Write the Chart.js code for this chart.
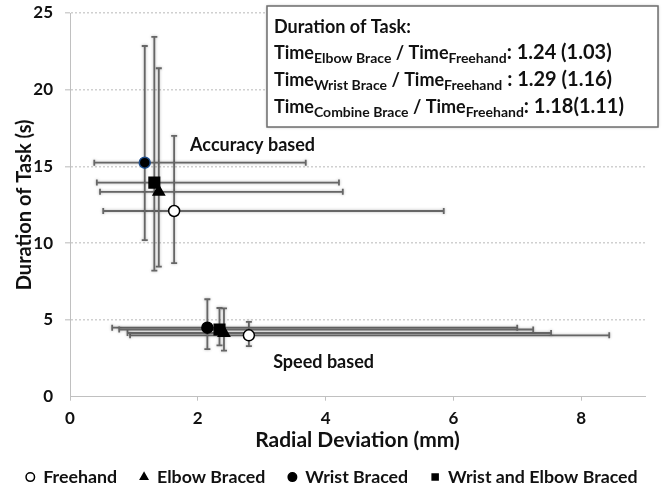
<!DOCTYPE html>
<html>
<head>
<meta charset="utf-8">
<script src="https://cdn.jsdelivr.net/npm/chart.js@4.4.0/dist/chart.umd.min.js"></script>
<style>
  html, body { margin: 0; padding: 0; background: #fff; }
  #wrap { width: 664px; height: 496px; }
</style>
</head>
<body>
<div id="wrap"><canvas id="chart" width="664" height="496"></canvas></div>
<script>
// series order: Freehand, Elbow Braced, Wrist Braced, Wrist and Elbow Braced
const seriesNames = ["Freehand", "Elbow Braced", "Wrist Braced", "Wrist and Elbow Braced"];

// accuracy based task (mean, low / high ends of the bars)
const accDev = [1.63, 1.39, 1.17, 1.32];
const accDevLow = [0.52, 0.47, 0.38, 0.42];
const accDevHigh = [5.85, 4.27, 3.69, 4.21];
const accTime = [12.1, 13.35, 15.25, 13.95];
const accTimeLow = [8.7, 8.47, 10.2, 8.21];
const accTimeHigh = [17.0, 21.4, 22.85, 23.45];

// speed based task
const spdDev = [2.8, 2.41, 2.15, 2.34];
const spdDevLow = [0.94, 0.9, 0.66, 0.77];
const spdDevHigh = [8.44, 7.53, 7.0, 7.25];
const spdTime = [4.0, 4.15, 4.5, 4.38];
const spdTimeLow = [3.3, 3.0, 3.1, 3.35];
const spdTimeHigh = [4.87, 5.75, 6.35, 5.78];

const xTicks = [0, 2, 4, 6, 8];
const ratioNames = ["Elbow Brace", "Wrist Brace", "Combine Brace"];
const ratioValues = [": 1.24 (1.03)", " : 1.29 (1.16)", ": 1.18(1.11)"];

const FONT = "Lato";
const pointStyles = ["circle", "triangle", "circle", "rect"];
const pointFills = ["#ffffff", "#000000", "#000000", "#000000"];
const pointSizes = [5.5, 6.5, 5.5, 7.5];

const datasets = seriesNames.map((name, i) => ({
  label: name,
  data: [
    { x: accDev[i], y: accTime[i], xMin: accDevLow[i], xMax: accDevHigh[i], yMin: accTimeLow[i], yMax: accTimeHigh[i] },
    { x: spdDev[i], y: spdTime[i], xMin: spdDevLow[i], xMax: spdDevHigh[i], yMin: spdTimeLow[i], yMax: spdTimeHigh[i] }
  ],
  pointStyle: pointStyles[i],
  pointRadius: pointSizes[i],
  pointBackgroundColor: pointFills[i],
  pointBorderColor: i === 2 ? ["#1f4e8c", "#000000"] : "#000000",
  pointBorderWidth: 1.5,
  backgroundColor: pointFills[i],
  borderColor: "#000000"
}));

// whiskers, drawn under the markers
const errorBars = {
  id: "errorBars",
  beforeDatasetsDraw(chart) {
    const { ctx, scales: { x, y } } = chart;
    ctx.save();
    ctx.strokeStyle = "#666666";
    ctx.lineWidth = 1.8;
    ctx.shadowColor = "rgba(0,0,0,0.3)";
    ctx.shadowBlur = 3;
    chart.data.datasets.forEach(ds => ds.data.forEach(p => {
      const px = x.getPixelForValue(p.x), py = y.getPixelForValue(p.y);
      const x0 = x.getPixelForValue(p.xMin), x1 = x.getPixelForValue(p.xMax);
      const y0 = y.getPixelForValue(p.yMin), y1 = y.getPixelForValue(p.yMax);
      ctx.beginPath();
      ctx.moveTo(x0, py); ctx.lineTo(x1, py);
      ctx.moveTo(x0, py - 3); ctx.lineTo(x0, py + 3);
      ctx.moveTo(x1, py - 3); ctx.lineTo(x1, py + 3);
      ctx.moveTo(px, y0); ctx.lineTo(px, y1);
      ctx.moveTo(px - 3, y0); ctx.lineTo(px + 3, y0);
      ctx.moveTo(px - 3, y1); ctx.lineTo(px + 3, y1);
      ctx.stroke();
    }));
    ctx.restore();
  }
};

function richLine(ctx, x, y, parts) {
  parts.forEach(([t, size, dy]) => {
    ctx.font = "bold " + size + "px " + FONT;
    ctx.fillText(t, x, y + dy);
    x += ctx.measureText(t).width;
  });
}

const annotations = {
  id: "annotations",
  afterDatasetsDraw(chart) {
    const { ctx, scales: { x, y } } = chart;
    ctx.save();
    ctx.fillStyle = "#111";
    ctx.font = "bold 18px " + FONT;
    ctx.textBaseline = "middle";
    ctx.fillText("Accuracy based", x.getPixelForValue(1.88), y.getPixelForValue(16.4));
    ctx.fillText("Speed based", x.getPixelForValue(3.18), y.getPixelForValue(2.28));
    ctx.restore();
  },
  afterDraw(chart) {
    const ctx = chart.ctx;
    ctx.save();
    ctx.shadowColor = "rgba(0,0,0,0.35)";
    ctx.shadowBlur = 3;
    ctx.fillStyle = "#fff";
    ctx.fillRect(267, 6, 391, 121);
    ctx.shadowBlur = 0;
    ctx.strokeStyle = "#6e6e6e";
    ctx.lineWidth = 1.5;
    ctx.strokeRect(267, 6, 391, 121);
    ctx.fillStyle = "#111";
    ctx.textBaseline = "alphabetic";
    ctx.font = "bold 18px " + FONT;
    ctx.fillText("Duration of Task:", 274, 33);
    const base = [59, 86, 113];
    ratioNames.forEach((n, i) => {
      richLine(ctx, 274, base[i], [["Time", 18, 0], [n, 14, 4], [" / Time", 18, 0], ["Freehand", 14, 4], [ratioValues[i], 20, 0]]);
    });
    ctx.restore();
  }
};

Chart.defaults.font.family = FONT;
Chart.defaults.font.weight = "bold";
Chart.defaults.color = "#111";

new Chart(document.getElementById("chart"), {
  type: "scatter",
  data: { datasets },
  options: {
    responsive: false,
    animation: false,
    layout: { padding: { top: 13, right: 0, left: 0, bottom: 0 } },
    scales: {
      x: {
        type: "linear",
        min: 0,
        max: 9,
        afterBuildTicks(s) { s.ticks = xTicks.map(v => ({ value: v })); },
        ticks: { padding: 8, font: { size: 17, weight: "bold" } },
        grid: { drawOnChartArea: false, tickLength: 4, color: "#c0c0c0" },
        border: { color: "#c0c0c0", dash: [2, 2] },
        title: { display: true, text: "Radial Deviation (mm)", font: { size: 21, weight: "bold" }, padding: { top: 0, bottom: -7.5 } },
        afterFit(s) { s.height = 48.5; s.paddingLeft = 0; s.paddingRight = 0; }
      },
      y: {
        min: 0,
        max: 25,
        ticks: { stepSize: 5, padding: 12, font: { size: 17, weight: "bold" } },
        grid: {
          color: c => (c.tick && c.tick.value === 0 ? "rgba(0,0,0,0)" : "#d0d0d0"),
          lineWidth: 1.5,
          tickLength: 5
        },
        border: { color: "#c0c0c0", dash: [2, 2] },
        title: { display: true, text: "Duration of Task (s)", font: { size: 20, weight: "bold" }, padding: { top: 13, bottom: 0 } },
        afterFit(s) { s.width = 70; s.paddingTop = 0; s.paddingBottom = 0; }
      },
      // empty right margin
      yRight: {
        position: "right",
        grid: { display: false },
        ticks: { display: false },
        border: { display: false },
        afterFit(s) { s.width = 19; s.paddingTop = 0; s.paddingBottom = 0; }
      }
    },
    plugins: {
      legend: {
        position: "bottom",
        labels: {
          usePointStyle: true,
          boxWidth: 8,
          boxHeight: 6,
          padding: 23,
          font: { size: 17.8, weight: "bold" },
          generateLabels(chart) {
            const items = Chart.defaults.plugins.legend.labels.generateLabels(chart);
            items.forEach(it => { it.strokeStyle = "#000"; it.lineWidth = 1.5; });
            return items;
          }
        }
      },
      tooltip: { enabled: false }
    }
  },
  plugins: [errorBars, annotations]
});
</script>
</body>
</html>
